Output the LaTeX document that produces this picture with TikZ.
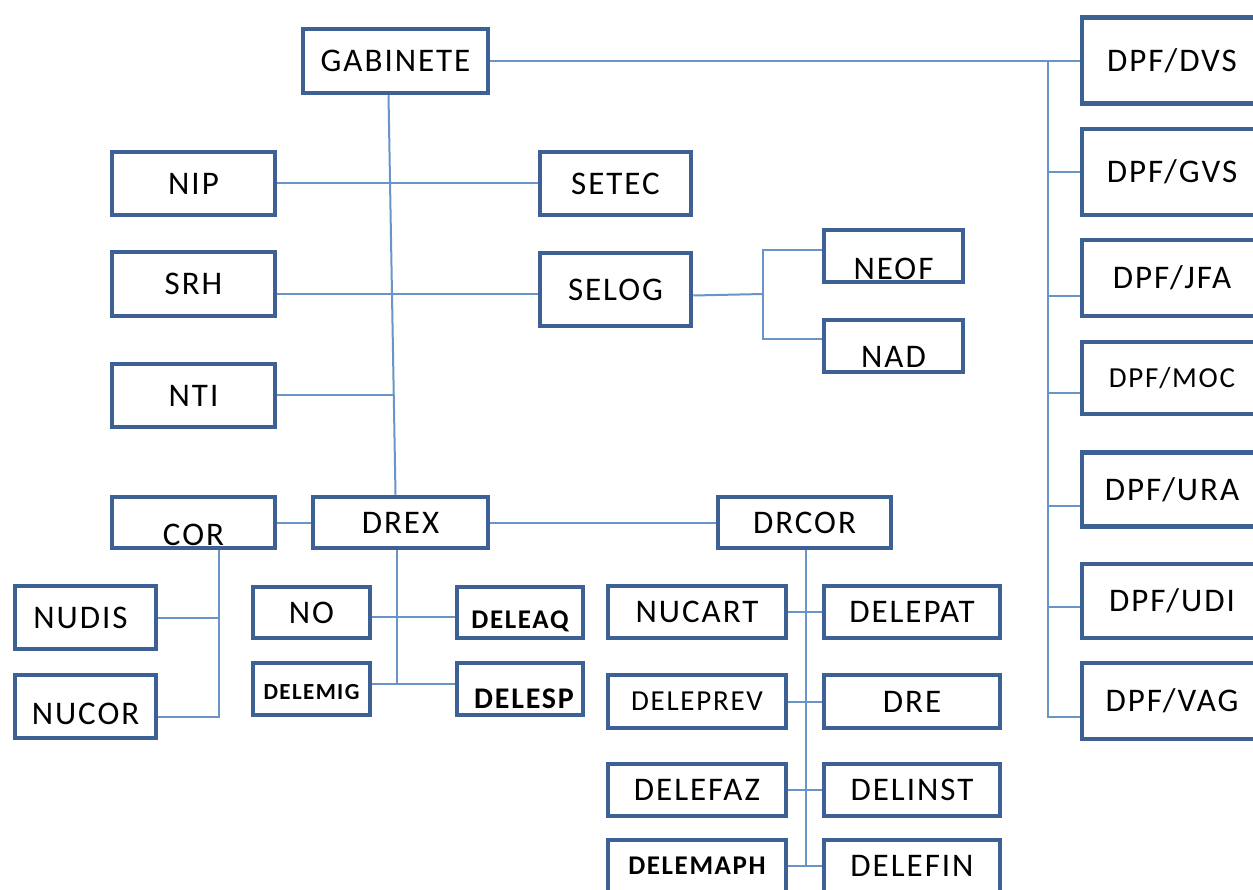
\documentclass[tikz,border=0pt]{standalone}
\usepackage{fontspec}
\setmainfont{Carlito}[LetterSpace=6]
\definecolor{unitblue}{HTML}{3E6195}
\definecolor{linkblue}{HTML}{6994C8}
\newcommand{\sunk}[2]{\raisebox{-#1}[0pt][0pt]{#2}}
\tikzset{
  unit/.style={draw=unitblue, line width=4.5pt, fill=white, inner sep=0pt, font=\fontsize{33}{40}\selectfont},
  small/.style={font=\fontsize{29}{35}\selectfont},
  tiny/.style={font=\fontsize{27}{32}\selectfont\bfseries},
  link/.style={draw=linkblue, line width=2pt}
}
\begin{document}
\begin{tikzpicture}[x=1pt,y=-1pt]
\clip (0,0) rectangle (1253,890);
\node [unit, minimum width=185, minimum height=64] (gabinete) at (395.5,61) {GABINETE};
\node [unit, minimum width=163, minimum height=63] (nip) at (193.5,183.5) {NIP};
\node [unit, minimum width=151, minimum height=63] (setec) at (615.5,183.5) {SETEC};
\node [unit, minimum width=163, minimum height=64] (srh) at (193.5,284) {SRH};
\node [unit, minimum width=151, minimum height=73] (selog) at (615.5,289.5) {SELOG};
\node [unit, minimum width=139, minimum height=52] (neof) at (893.5,256) {\sunk{24pt}{NEOF}};
\node [unit, minimum width=139, minimum height=52] (nad) at (893.5,346) {\sunk{21.5pt}{NAD}};
\node [unit, minimum width=163, minimum height=63] (nti) at (193.5,395.5) {NTI};
\node [unit, minimum width=163, minimum height=51] (cor) at (193.5,522.5) {\sunk{22.5pt}{COR}};
\node [unit, minimum width=175, minimum height=51] (drex) at (400.5,522.5) {DREX};
\node [unit, minimum width=173, minimum height=51] (drcor) at (804.5,522.5) {DRCOR};
\node [unit, minimum width=141, minimum height=63] (nudis) at (85.5,617.5) {\hspace*{-10pt}NUDIS};
\node [unit, minimum width=141, minimum height=63] (nucor) at (85.5,706.5) {\sunk{18pt}{NUCOR}};
\node [unit, minimum width=117, minimum height=51] (no) at (311.5,612.5) {NO};
\node [unit, tiny, minimum width=126, minimum height=51] (deleaq) at (520,612.5) {\sunk{16pt}{DELEAQ}};
\node [unit, tiny, font=\fontsize{23}{28}\selectfont\bfseries, minimum width=117, minimum height=52] (delemig) at (311.5,689) {\sunk{10pt}{DELEMIG}};
\node [unit, tiny, font=\fontsize{30}{36}\selectfont\bfseries, minimum width=126, minimum height=52] (delesp) at (520,689) {\hspace*{8pt}\sunk{19.5pt}{DELESP}};
\node [unit, minimum width=178, minimum height=52] (nucart) at (697,612) {NUCART};
\node [unit, minimum width=176, minimum height=52] (delepat) at (912,612) {DELEPAT};
\node [unit, small, minimum width=178, minimum height=53] (deleprev) at (697,701.5) {DELEPREV};
\node [unit, minimum width=176, minimum height=53] (dre) at (912,701.5) {DRE};
\node [unit, minimum width=178, minimum height=52] (delefaz) at (697,790) {DELEFAZ};
\node [unit, minimum width=176, minimum height=52] (delinst) at (912,790) {DELINST};
\node [unit, tiny, minimum width=178, minimum height=52] (delemaph) at (697,866) {DELEMAPH};
\node [unit, minimum width=176, minimum height=52] (delefin) at (912,866) {DELEFIN};
\node [unit, minimum width=180, minimum height=86] (dpfdvs) at (1172,60.5) {DPF/DVS};
\node [unit, minimum width=180, minimum height=86] (dpfgvs) at (1172,172) {DPF/GVS};
\node [unit, minimum width=180, minimum height=76] (dpfjfa) at (1172,278) {DPF/JFA};
\node [unit, small, minimum width=180, minimum height=72] (dpfmoc) at (1172,378) {DPF/MOC};
\node [unit, minimum width=180, minimum height=74] (dpfura) at (1172,489.5) {DPF/URA};
\node [unit, minimum width=180, minimum height=74] (dpfudi) at (1172,601) {DPF/UDI};
\node [unit, minimum width=180, minimum height=76] (dpfvag) at (1172,701) {DPF/VAG};
\coordinate (dpfbus) at (1048,61);
\coordinate (ntijoin) at (393,395.5);
\coordinate (srhout) at ([yshift=-10pt]srh.east);
\coordinate (selogfork) at (763,294);
\coordinate (corbus) at ([xshift=25.5pt]cor.south);
\coordinate (drexbus) at ([xshift=-4pt]drex.south);
\coordinate (drcorbus) at ([xshift=1.5pt]drcor.south);
\draw [link] (gabinete.east) -- (gabinete.east -| dpfdvs.west);
\draw [link] (dpfbus) |- ([yshift=-16pt]dpfvag.west);
\draw [link] (dpfbus |- dpfgvs.west) -- (dpfgvs.west);
\draw [link] ([yshift=-18pt]dpfjfa.west) -- ([yshift=-18pt]dpfjfa.west -| dpfbus);
\draw [link] ([yshift=-15pt]dpfmoc.west) -- ([yshift=-15pt]dpfmoc.west -| dpfbus);
\draw [link] ([yshift=-16pt]dpfura.west) -- ([yshift=-16pt]dpfura.west -| dpfbus);
\draw [link] ([yshift=-6pt]dpfudi.west) -- ([yshift=-6pt]dpfudi.west -| dpfbus);
\draw [link] ([xshift=-7pt]gabinete.south) -- ([xshift=-5pt]drex.north);
\draw [link] (nip.east) -- (setec.west);
\draw [link] (srhout) -- (srhout -| selog.west);
\draw [link] (nti.east) -- (ntijoin);
\draw [link] ([yshift=-6pt]selog.east) -- (selogfork);
\draw [link] ([yshift=6pt]neof.west) -| (selogfork) |- ([yshift=7pt]nad.west);
\draw [link] (cor.east) -- (drex.west);
\draw [link] (drex.east) -- (drcor.west);
\draw [link] (corbus) |- ([yshift=-10pt]nucor.east);
\draw [link] (nudis.east) -- (nudis.east -| corbus);
\draw [link] (drexbus) |- ([yshift=5pt]delemig.east);
\draw [link] ([yshift=-4pt]no.east) -- ([yshift=-4pt]deleaq.west);
\draw [link] ([yshift=5pt]delemig.east) -- ([yshift=5pt]delesp.west);
\draw [link] (drcorbus) |- (delemaph.east);
\draw [link] (nucart.east) -- (delepat.west);
\draw [link] (deleprev.east) -- (dre.west);
\draw [link] (delefaz.east) -- (delinst.west);
\draw [link] (delemaph.east) -- (delefin.west);
\end{tikzpicture}
\end{document}
